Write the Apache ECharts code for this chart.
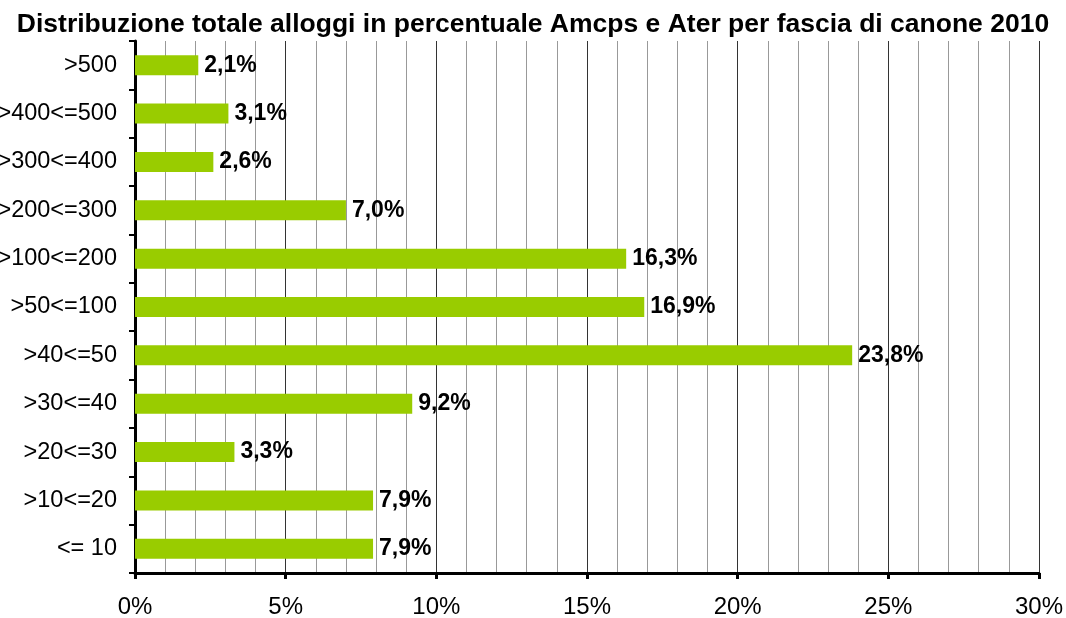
<!DOCTYPE html>
<html>
<head>
<meta charset="utf-8">
<script src="https://cdn.jsdelivr.net/npm/echarts@6/dist/echarts.min.js"></script>
<style>
  html, body { margin: 0; padding: 0; background: #fff; }
  #chart { width: 1066px; height: 618px; }
</style>
</head>
<body>
<div id="chart"></div>
<script>
// categories bottom to top
const categories = ['<= 10', '>10<=20', '>20<=30', '>30<=40', '>40<=50', '>50<=100', '>100<=200', '>200<=300', '>300<=400', '>400<=500', '>500']
const shares = [7.9, 7.9, 3.3, 9.2, 23.8, 16.9, 16.3, 7.0, 2.6, 3.1, 2.1]
const titleText = 'Distribuzione totale alloggi in percentuale Amcps e Ater per fascia di canone 2010'

const font = '"Liberation Sans", Arial, sans-serif'
const chart = echarts.init(document.getElementById('chart'))

chart.setOption({
  animation: false,
  title: {
    text: titleText,
    left: 'center',
    top: 6,
    textStyle: { fontFamily: font, fontSize: 26.5, fontWeight: 'bold', color: '#000' }
  },
  grid: { left: 135, right: 27, top: 41, bottom: 45, outerBoundsMode: 'none', containLabel: false },
  xAxis: {
    type: 'value',
    min: 0,
    max: 30,
    interval: 5,
    axisLine: { show: true, lineStyle: { color: '#000', width: 3 } },
    axisTick: { show: true, length: 6, lineStyle: { color: '#000', width: 3 } },
    axisLabel: {
      margin: 22,
      fontFamily: font,
      fontSize: 24,
      color: '#000',
      formatter: v => v + '%'
    },
    splitLine: { show: true, lineStyle: { color: '#333', width: 1 } },
    minorTick: { show: false, splitNumber: 5 },
    minorSplitLine: { show: true, lineStyle: { color: '#999', width: 1 } }
  },
  yAxis: {
    type: 'category',
    data: categories,
    axisLine: { show: true, lineStyle: { color: '#000', width: 3 } },
    axisTick: { show: true, length: 6, lineStyle: { color: '#000', width: 2 } },
    axisLabel: { margin: 18, fontFamily: font, fontSize: 23.5, color: '#000' },
    splitLine: { show: false }
  },
  series: [{
    type: 'bar',
    data: shares,
    barWidth: 20,
    itemStyle: { color: '#99CC00' },
    label: {
      show: true,
      position: 'right',
      distance: 6,
      fontFamily: font,
      fontSize: 23,
      fontWeight: 'bold',
      color: '#000',
      formatter: p => p.value.toFixed(1).replace('.', ',') + '%'
    }
  }]
})
</script>
</body>
</html>
